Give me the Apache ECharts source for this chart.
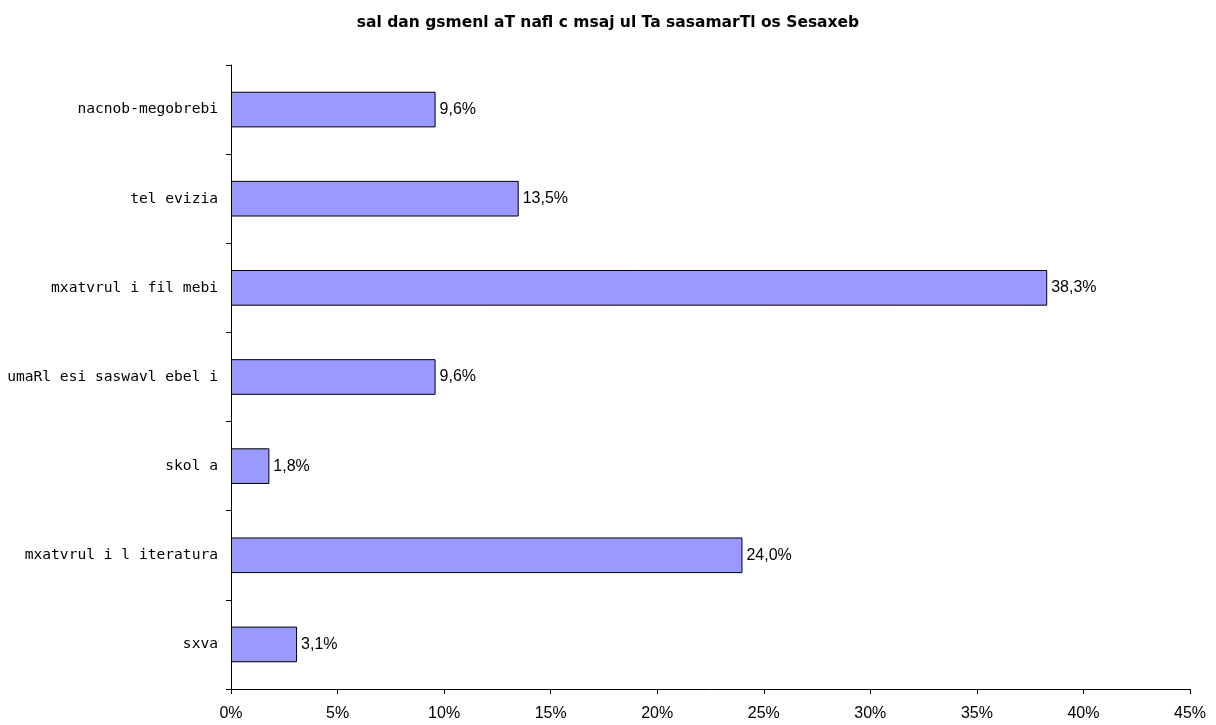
<!DOCTYPE html>
<html>
<head>
<meta charset="utf-8">
<script src="https://cdn.jsdelivr.net/npm/echarts@6/dist/echarts.min.js"></script>
<style>
  html, body { margin: 0; padding: 0; background: #fff; }
  #chart { width: 1216px; height: 725px; }
</style>
</head>
<body>
<div id="chart"></div>
<script>
// კატეგორიები ზემოდან ქვემოთ
var categories = ['nacnob-megobrebi', 'tel evizia', 'mxatvrul i fil mebi', 'umaRl esi saswavl ebel i', 'skol a', 'mxatvrul i l iteratura', 'sxva'];
var values = [9.6, 13.5, 38.3, 9.6, 1.8, 24.0, 3.1];
var xTicks = [0, 5, 10, 15, 20, 25, 30, 35, 40, 45];
var title = 'sal dan gsmenl aT nafl c msaj ul Ta sasamarTl os Sesaxeb';

var chart = echarts.init(document.getElementById('chart'));
chart.setOption({
  animation: false,
  title: {
    text: title,
    left: 'center',
    top: 10,
    textStyle: { fontFamily: 'DejaVu Sans', fontSize: 15.5, fontWeight: 'bold', color: '#000' }
  },
  grid: { left: 231, right: 26, top: 65, bottom: 36 },
  xAxis: {
    type: 'value',
    min: xTicks[0],
    max: xTicks[xTicks.length - 1],
    interval: 5,
    axisLine: { show: true, lineStyle: { color: '#000', width: 1 } },
    axisTick: { show: true, length: 5, lineStyle: { color: '#000' } },
    axisLabel: {
      margin: 17,
      fontFamily: 'Liberation Sans, Arial',
      fontSize: 16,
      color: '#000',
      formatter: function (v) { return v + '%'; }
    },
    splitLine: { show: false }
  },
  yAxis: {
    type: 'category',
    data: categories,
    inverse: true,
    axisLine: { show: true, lineStyle: { color: '#000', width: 1 } },
    axisTick: { show: true, length: 5, lineStyle: { color: '#000' } },
    axisLabel: {
      margin: 13,
      fontFamily: 'DejaVu Sans Mono',
      fontSize: 14.6,
      color: '#000'
    }
  },
  series: [{
    type: 'bar',
    data: values,
    barWidth: '40%',
    itemStyle: { color: '#9999ff', borderColor: '#000', borderWidth: 1 },
    label: {
      show: true,
      position: 'right',
      distance: 4,
      fontFamily: 'Liberation Sans, Arial',
      fontSize: 16,
      color: '#000',
      formatter: function (p) { return p.value.toFixed(1).replace('.', ',') + '%'; }
    }
  }]
});
</script>
</body>
</html>
